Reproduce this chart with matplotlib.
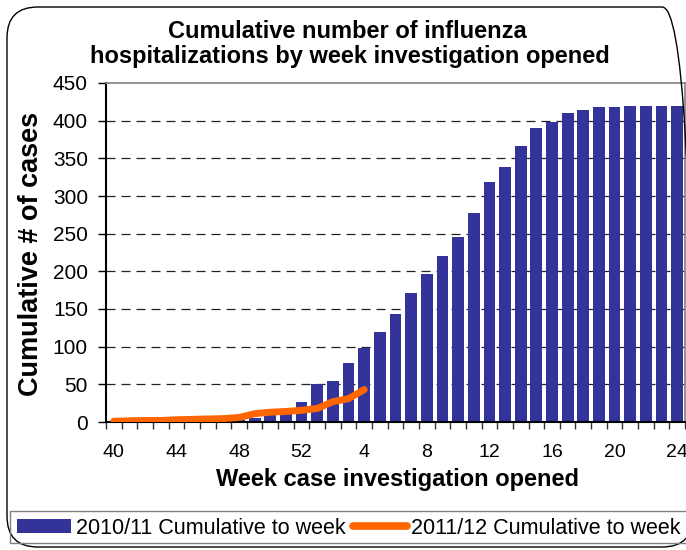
import matplotlib
matplotlib.use("Agg")
import matplotlib.pyplot as plt
from matplotlib.patches import FancyBboxPatch, Rectangle, Patch
from matplotlib.lines import Line2D
import numpy as np

plt.rcParams['font.family'] = ['Liberation Sans', 'DejaVu Sans']
plt.rcParams['lines.scale_dashes'] = False

# ---- data ----
weeks = [40, 41, 42, 43, 44, 45, 46, 47, 48, 49, 50, 51, 52,
         1, 2, 3, 4, 5, 6, 7, 8, 9, 10, 11, 12, 13, 14, 15, 16,
         17, 18, 19, 20, 21, 22, 23, 24]
cum_2010_11 = [0, 0, 0, 0, 0, 0, 0, 0, 2, 5, 9, 14, 27,
               50, 54, 78, 98, 120, 143, 171, 196, 220, 245, 277, 318,
               338, 367, 390, 398, 410, 414, 418, 418, 419, 419, 419, 419]
cum_2011_12 = [1, 1.5, 2, 2, 3, 3.5, 4, 4.5, 6, 11, 13, 14, 15.5, 18, 27, 31, 43]
tick_labels = ['40', '44', '48', '52', '4', '8', '12', '16', '20', '24']
y_ticks = [0, 50, 100, 150, 200, 250, 300, 350, 400, 450]

title_l1 = "Cumulative number of influenza"
title_l2 = "hospitalizations by week investigation opened"
x_label = "Week case investigation opened"
y_label = "Cumulative # of cases"
leg1 = "2010/11 Cumulative to week"
leg2 = "2011/12 Cumulative to week"

BAR = '#333399'
ORANGE = '#FF6600'

W, H = 686, 550
fig = plt.figure(figsize=(W / 100, H / 100), dpi=100)

def fx(px):
    return px / W

def fy(py):
    return 1 - py / H

# outer rounded frame (right edge runs just past the picture)
frame = FancyBboxPatch((fx(7), fy(547)), fx(693 - 7), fy(7) - fy(547),
                       boxstyle="round,pad=0,rounding_size=0.045",
                       transform=fig.transFigure, fill=False,
                       edgecolor='black', lw=1.0, mutation_aspect=W / H)
fig.patches.append(frame)

# legend box
fig.patches.append(Rectangle((fx(10), fy(543)), fx(700 - 10), fy(511) - fy(543),
                             transform=fig.transFigure, fill=False,
                             edgecolor='#808080', lw=1.0))

left, right, top, bottom = 106, 685, 83, 422
ax = fig.add_axes([fx(left), fy(bottom), fx(right - left), fy(top) - fy(bottom)])

x = np.arange(len(weeks))
ax.bar(x, cum_2010_11, width=0.75, color=BAR, zorder=2)
xl = np.arange(len(cum_2011_12))
ax.plot(xl, cum_2011_12, color=ORANGE, lw=5, solid_capstyle='round',
        solid_joinstyle='round', zorder=3)

ax.set_xlim(-0.5, len(weeks) - 0.5)
ax.set_ylim(0, 450)
ax.set_yticks(y_ticks)
ax.tick_params(axis='y', direction='out', length=6, width=1, labelsize=15,
               pad=7, colors='black')
ax.set_xticks(np.arange(0, len(weeks), 4))
ax.set_xticklabels(tick_labels)
ax.set_xticks(np.arange(len(weeks) + 1) - 0.5, minor=True)
ax.tick_params(axis='x', which='major', length=0, labelsize=14, pad=16)
ax.tick_params(axis='x', which='minor', direction='out', length=5, width=1, color='#333333')

for yv in y_ticks[1:-1]:
    ax.axhline(yv, color='#222222', lw=0.9, linestyle=(0, (6.5, 4.3)), zorder=1)

for s in ['left', 'bottom']:
    ax.spines[s].set_linewidth(1.5)
    ax.spines[s].set_color('black')
for s in ['top', 'right']:
    ax.spines[s].set_linewidth(1.2)
    ax.spines[s].set_color('#808080')

fig.text(fx(347), fy(38), title_l1, ha='center', va='baseline',
         fontsize=17, fontweight='bold')
fig.text(fx(350), fy(63), title_l2, ha='center', va='baseline',
         fontsize=17, fontweight='bold')
fig.text(fx(397), fy(486), x_label, ha='center', va='baseline',
         fontsize=17, fontweight='bold')
fig.text(fx(31), fy(254), y_label, ha='center', va='center', rotation=90,
         fontsize=19.5, fontweight='bold')

handles = [Patch(facecolor=BAR, edgecolor='none'),
           Line2D([0], [0], color=ORANGE, lw=5.5, solid_capstyle='round')]
fig.legend(handles, [leg1, leg2], loc='center left',
           bbox_to_anchor=(fx(17), fy(528)), ncol=2, frameon=False,
           fontsize=15.5, borderpad=0, borderaxespad=0, handlelength=2.5,
           handletextpad=0.22, columnspacing=0.35, handleheight=0.6)

fig.savefig('out.png', dpi=100)
